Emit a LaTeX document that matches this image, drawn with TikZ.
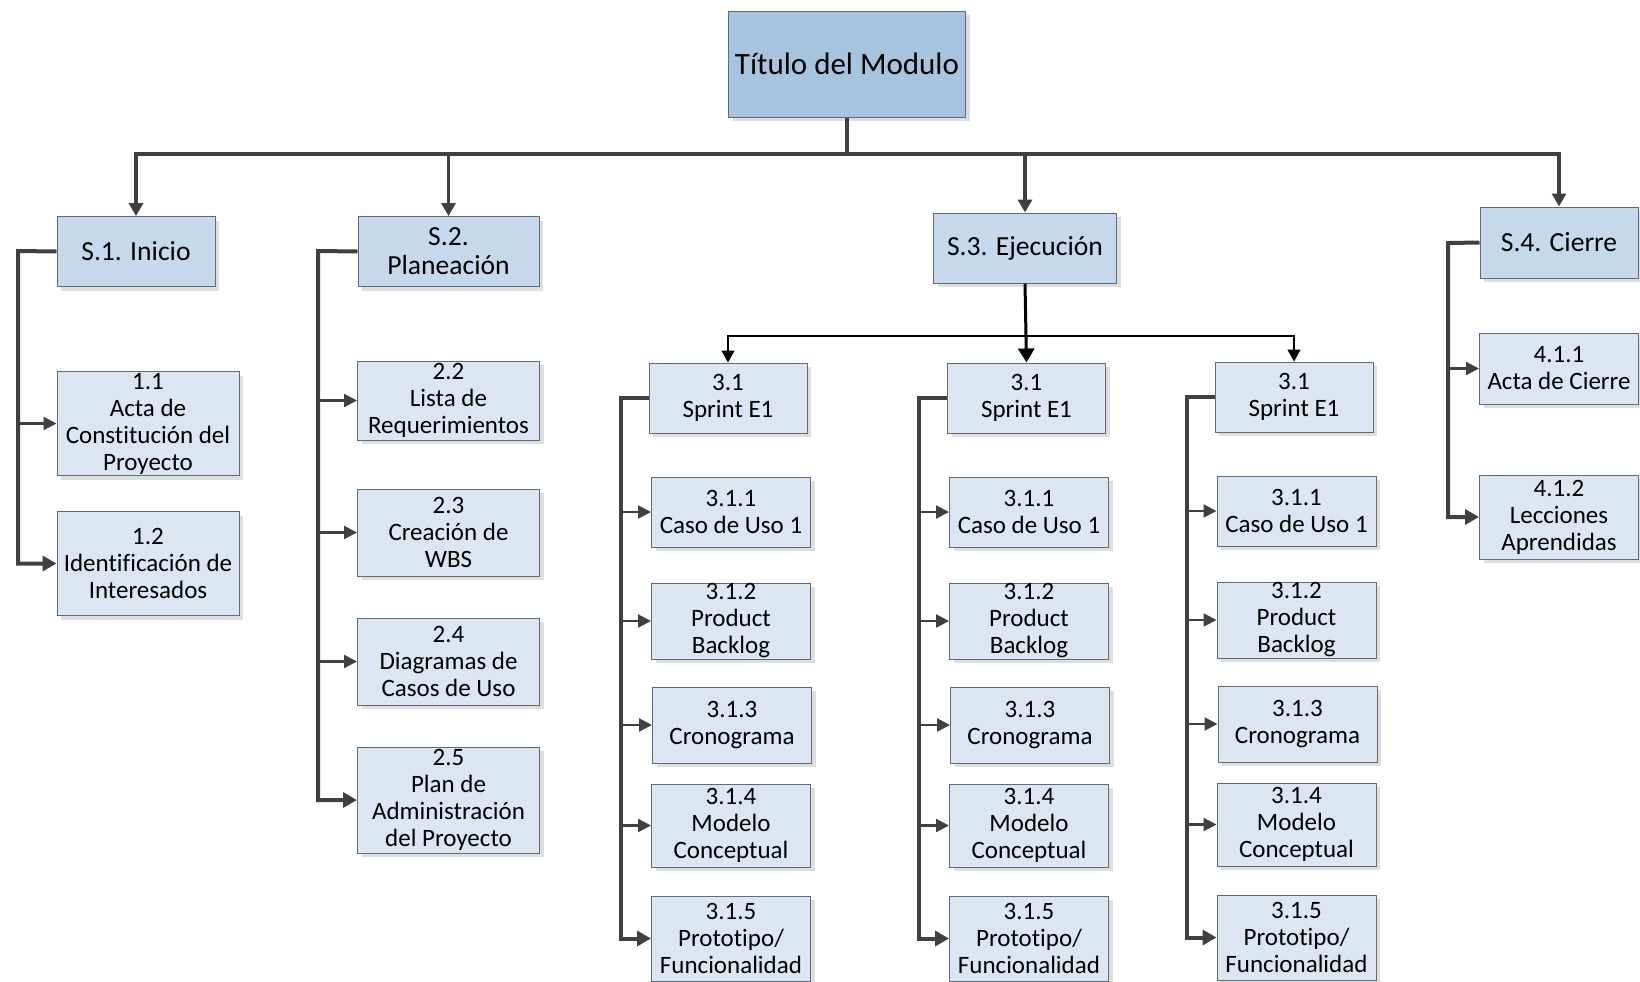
\documentclass[tikz,border=0pt]{standalone}
\usepackage{fontspec}
\setmainfont[Ligatures=NoCommon]{Carlito}
\usetikzlibrary{arrows.meta,shadows}
\definecolor{topfill}{HTML}{A7C4DF}
\definecolor{phasefill}{HTML}{C6D9EC}
\definecolor{itemfill}{HTML}{DCE6F2}
\definecolor{boxline}{HTML}{5E6B7C}
\definecolor{linkgray}{HTML}{404040}

\begin{document}
\begin{tikzpicture}[x=0.5pt,y=-0.5pt,
  box/.style={draw=boxline,line width=0.5pt,inner sep=0pt,align=center,
    drop shadow={shadow xshift=2pt,shadow yshift=-2pt,fill=black!13,opacity=1}},
  phase/.style={box,fill=phasefill,minimum width=79pt,minimum height=35pt,font=\fontsize{13.8}{14.6}\selectfont},
  item/.style={box,fill=itemfill,minimum width=79.5pt,font=\fontsize{12.5}{13.5}\selectfont},
  wide/.style={minimum width=91pt},
  bus/.style={draw=linkgray,line width=1.8pt},
  busarrow/.style={bus,-{Triangle[length=6.5pt,width=7pt]}},
  spine/.style={draw=linkgray,line width=2pt,-{Triangle[length=7pt,width=7.5pt]}},
  branch/.style={draw=linkgray,line width=1.1pt,-{Triangle[length=6.5pt,width=6.5pt]}},
  sprintbus/.style={draw=black,line width=0.7pt,-{Triangle[length=6pt,width=6.5pt]}}]
\useasboundingbox (0,0) rectangle (1640,981);

% Top node
\node[box,fill=topfill,minimum width=118.5pt,minimum height=53pt,font=\fontsize{15.5}{18}\selectfont] (title) at (847,64) {Título del Modulo};

% Phase nodes
\node[phase] (s1) at (136,251.5) {S.1. Inicio};
\node[phase,minimum width=90.5pt] (s2) at (448.5,251.5) {S.2.\\Planeación};
\node[phase,minimum width=91.5pt] (s3) at (1025,248) {S.3. Ejecución};
\node[phase,minimum height=35.5pt] (s4) at (1559,242.5) {S.4. Cierre};

% Inicio
\node[item,wide,minimum height=52pt] (n11) at (148,423.5) {1.1\\Acta de\\Constitución del\\Proyecto};
\node[item,wide,minimum height=52pt] (n12) at (148,563.5) {1.2\\Identificación de\\Interesados};

% Planeacion
\node[item,wide,minimum height=39.5pt] (n22) at (448.5,400.5) {2.2\\Lista de\\Requerimientos};
\node[item,wide,minimum height=43.5pt] (n23) at (448.5,532.5) {2.3\\Creación de\\WBS};
\node[item,wide,minimum height=43.5pt] (n24) at (448.5,661.5) {2.4\\Diagramas de\\Casos de Uso};
\node[item,wide,minimum height=53pt] (n25) at (448.5,800) {2.5\\Plan de\\Administración\\del Proyecto};

% Ejecucion - sprints
\node[item,minimum width=79pt,minimum height=35pt] (spa) at (728,398) {3.1\\Sprint E1};
\node[item,minimum width=79pt,minimum height=35pt] (spb) at (1026.5,398) {3.1\\Sprint E1};
\node[item,minimum width=79pt,minimum height=35pt] (spc) at (1294,397) {3.1\\Sprint E1};

% Sprint A items
\node[item,minimum height=35pt] (a1) at (731,512) {3.1.1\\Caso de Uso 1};
\node[item,minimum height=38pt] (a2) at (731,621) {3.1.2\\Product\\Backlog};
\node[item,minimum height=38pt] (a3) at (732,725) {3.1.3\\Cronograma};
\node[item,minimum height=41.5pt] (a4) at (731,825.5) {3.1.4\\Modelo\\Conceptual};
\node[item,minimum height=42.5pt] (a5) at (731,938.5) {3.1.5\\Prototipo/\\Funcionalidad};

% Sprint B items
\node[item,minimum height=35pt] (b1) at (1029,512) {3.1.1\\Caso de Uso 1};
\node[item,minimum height=38pt] (b2) at (1029,621) {3.1.2\\Product\\Backlog};
\node[item,minimum height=38pt] (b3) at (1030,725) {3.1.3\\Cronograma};
\node[item,minimum height=41.5pt] (b4) at (1029,825.5) {3.1.4\\Modelo\\Conceptual};
\node[item,minimum height=42.5pt] (b5) at (1029,938.5) {3.1.5\\Prototipo/\\Funcionalidad};

% Sprint C items
\node[item,minimum height=35pt] (c1) at (1296.5,511) {3.1.1\\Caso de Uso 1};
\node[item,minimum height=38pt] (c2) at (1296.5,620) {3.1.2\\Product\\Backlog};
\node[item,minimum height=38pt] (c3) at (1297.5,724) {3.1.3\\Cronograma};
\node[item,minimum height=41.5pt] (c4) at (1296.5,824.5) {3.1.4\\Modelo\\Conceptual};
\node[item,minimum height=42.5pt] (c5) at (1296.5,937.5) {3.1.5\\Prototipo/\\Funcionalidad};

% Cierre
\node[item,minimum height=35.5pt] (n411) at (1559,368.5) {4.1.1\\Acta de Cierre};
\node[item,minimum height=42pt] (n412) at (1559,517) {4.1.2\\Lecciones\\Aprendidas};

% Bus points
\coordinate (tbus) at (847,154);
\coordinate (sbus) at (1025,336);
\coordinate (sp1) at (18,251);
\coordinate (sp2) at (318,251);
\coordinate (sp4) at (1448,243);
\coordinate (spA) at (621,398);
\coordinate (spB) at (919,398);
\coordinate (spC) at (1187,397);

% Top connections
\draw[bus] (title.south) -- (tbus);
\draw[busarrow] (tbus) -| (s1.north);
\draw[busarrow] (tbus) -| (s2.north);
\draw[busarrow] (tbus) -| (s3.north);
\draw[busarrow] (tbus) -| (s4.north);

% Inicio connections
\draw[spine] (s1.west) -- (sp1) |- (n12.west);
\draw[branch] (sp1 |- n11.west) -- (n11.west);

% Planeacion connections
\draw[spine] (s2.west) -- (sp2) |- (n25.west);
\draw[branch] (sp2 |- n22.west) -- (n22.west);
\draw[branch] (sp2 |- n23.west) -- (n23.west);
\draw[branch] (sp2 |- n24.west) -- (n24.west);

% Ejecucion connections
\draw[black,line width=1.5pt,-{Triangle[length=7pt,width=8pt]}] (s3.south) -- (spb.north);
\draw[sprintbus] (sbus) -| (spa.north);
\draw[sprintbus] (sbus) -| (spc.north);

\draw[spine] (spa.west) -- (spA) |- (a5.west);
\draw[branch] (spA |- a1.west) -- (a1.west);
\draw[branch] (spA |- a2.west) -- (a2.west);
\draw[branch] (spA |- a3.west) -- (a3.west);
\draw[branch] (spA |- a4.west) -- (a4.west);

\draw[spine] (spb.west) -- (spB) |- (b5.west);
\draw[branch] (spB |- b1.west) -- (b1.west);
\draw[branch] (spB |- b2.west) -- (b2.west);
\draw[branch] (spB |- b3.west) -- (b3.west);
\draw[branch] (spB |- b4.west) -- (b4.west);

\draw[spine] (spc.west) -- (spC) |- (c5.west);
\draw[branch] (spC |- c1.west) -- (c1.west);
\draw[branch] (spC |- c2.west) -- (c2.west);
\draw[branch] (spC |- c3.west) -- (c3.west);
\draw[branch] (spC |- c4.west) -- (c4.west);

% Cierre connections
\draw[spine] (s4.west) -- (sp4) |- (n412.west);
\draw[branch] (sp4 |- n411.west) -- (n411.west);
\end{tikzpicture}
\end{document}
